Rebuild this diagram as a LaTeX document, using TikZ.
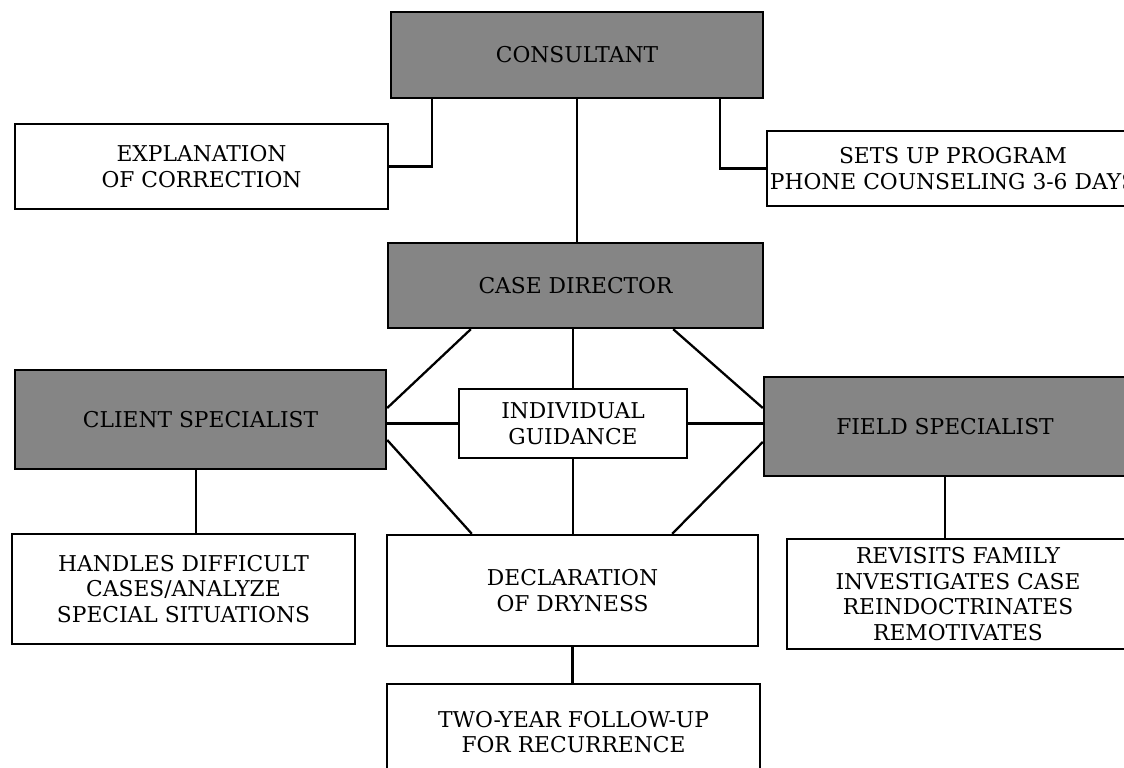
\documentclass[tikz,border=0pt]{standalone}
\usepackage{fontspec}
\setmainfont{DejaVu Serif}
\usetikzlibrary{positioning}
\tikzset{
  plainbox/.style={draw=black, line width=1.4pt, fill=white, align=center, inner sep=0pt,
    font=\fontsize{12.4}{14.6}\selectfont},
  shadebox/.style={plainbox, fill=black!48},
  link/.style={line width=1.3pt},
}
\begin{document}
\begin{tikzpicture}[x=0.02cm, y=-0.02cm]
  \useasboundingbox (0,0) rectangle (1124,767);
  \clip (0,0) rectangle (1124,767);
  \node[shadebox, minimum width=7.44cm, minimum height=1.72cm] (cons) at (577,55) {CONSULTANT};
  \node[plainbox, minimum width=7.46cm, minimum height=1.70cm] (expl) at (201.5,166.5) {EXPLANATION\\OF CORRECTION};
  \node[plainbox, minimum width=7.44cm, minimum height=1.50cm] (setup) at (953,168.5) {SETS UP PROGRAM\\PHONE COUNSELING 3-6 DAYS};
  \node[shadebox, minimum width=7.50cm, minimum height=1.70cm] (cd) at (575.5,285.5) {CASE DIRECTOR};
  \node[shadebox, minimum width=7.42cm, minimum height=1.98cm] (cs) at (200.5,419.5) {CLIENT SPECIALIST};
  \node[plainbox, minimum width=4.56cm, minimum height=1.38cm] (ig) at (573,423.5) {INDIVIDUAL\\GUIDANCE};
  \node[shadebox, minimum width=7.24cm, minimum height=1.98cm] (fs) at (945,426.5) {FIELD SPECIALIST};
  \node[plainbox, minimum width=6.86cm, minimum height=2.20cm] (hd) at (183.5,589) {HANDLES DIFFICULT\\CASES/ANALYZE\\SPECIAL SITUATIONS};
  \node[plainbox, minimum width=7.42cm, minimum height=2.22cm] (decl) at (572.5,590.5) {DECLARATION\\OF DRYNESS};
  \node[plainbox, minimum width=6.84cm, minimum height=2.20cm] (rev) at (958,594) {REVISITS FAMILY\\INVESTIGATES CASE\\REINDOCTRINATES\\REMOTIVATES};
  \node[plainbox, minimum width=7.46cm, minimum height=1.92cm] (two) at (573.5,732) {TWO-YEAR FOLLOW-UP\\FOR RECURRENCE};
  \draw[link] ([xshift=0.84cm]cons.south west) |- (expl.east);
  \draw[link] ([xshift=-0.88cm]cons.south east) |- (setup.west);
  \draw[link] (cons.south) -- (cons.south |- cd.north);
  \draw[link] ([xshift=1.68cm]cd.south west) -- ([yshift=0.23cm]cs.east);
  \draw[link] ([xshift=-1.82cm]cd.south east) -- ([yshift=0.37cm]fs.west);
  \draw[link] (cd.south -| ig.north) -- (ig.north);
  \draw[link] (ig.west -| cs.east) -- (ig.west);
  \draw[link] (ig.east) -- (ig.east -| fs.west);
  \draw[link] ([yshift=-0.41cm]cs.east) -- ([xshift=1.72cm]decl.north west);
  \draw[link] ([yshift=-0.31cm]fs.west) -- ([xshift=-1.74cm]decl.north east);
  \draw[link] (ig.south) -- (ig.south |- decl.north);
  \draw[link] ([xshift=-0.09cm]cs.south) -- ([xshift=-0.09cm]cs.south |- hd.north);
  \draw[link] (fs.south) -- (fs.south |- rev.north);
  \draw[link] (decl.south) -- (decl.south |- two.north);
\end{tikzpicture}
\end{document}
